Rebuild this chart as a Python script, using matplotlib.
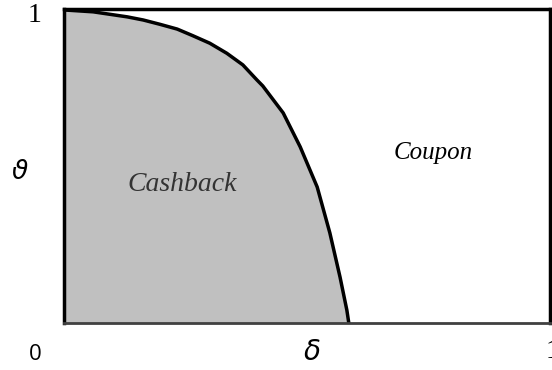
import matplotlib
matplotlib.use("Agg")
import matplotlib.pyplot as plt

# boundary curve (delta on x, theta on y)
delta = [0.0, 0.060, 0.130, 0.163, 0.198, 0.233, 0.265, 0.300, 0.335, 0.368,
         0.397, 0.409, 0.451, 0.486, 0.521, 0.547, 0.568, 0.582, 0.586]
theta = [0.997, 0.991, 0.975, 0.965, 0.951, 0.936, 0.915, 0.891, 0.859, 0.822,
         0.774, 0.755, 0.669, 0.561, 0.433, 0.287, 0.146, 0.041, 0.0]

region_labels = ["Cashback", "Coupon"]

fig = plt.figure(figsize=(5.52, 3.70), dpi=100)
ax = fig.add_axes([64 / 552, 47 / 370, 486 / 552, 314 / 370])

ax.fill_between(delta, 0, theta, color="#c0c0c0", linewidth=0)
ax.plot(delta, theta, color="black", linewidth=2.5, solid_joinstyle="round")

ax.set_xlim(0, 1)
ax.set_ylim(0, 1)
ax.set_xticks([])
ax.set_yticks([])
for side in ["left", "top", "right"]:
    ax.spines[side].set_linewidth(2.5)
    ax.spines[side].set_color("black")
ax.spines["bottom"].set_linewidth(2)
ax.spines["bottom"].set_color("#404040")

serif = "Liberation Serif"
ax.text(0.243, 0.44, region_labels[0], fontsize=20, family=serif, style="italic",
        color="#333333", ha="center", va="center")
ax.text(0.759, 0.54, region_labels[1], fontsize=18, family=serif, style="italic",
        color="black", ha="center", va="center")

fig.text(35 / 552, 1 - 15 / 370, "1", fontsize=20, family=serif, ha="center", va="center")
fig.text(35 / 552, 1 - 355 / 370, "0", fontsize=16, family="Open Sans", ha="center", va="center")
fig.text(312 / 552, 1 - 352 / 370, "δ", fontsize=20, family="DejaVu Sans", style="italic",
         ha="center", va="center")
fig.text(546 / 552, 1 - 351 / 370, "1", fontsize=20, family=serif, ha="left", va="center")
fig.text(20 / 552, 1 - 172 / 370, "ϑ", fontsize=19, family="DejaVu Sans", style="italic",
         ha="center", va="center")

fig.savefig("out.png", dpi=100)
